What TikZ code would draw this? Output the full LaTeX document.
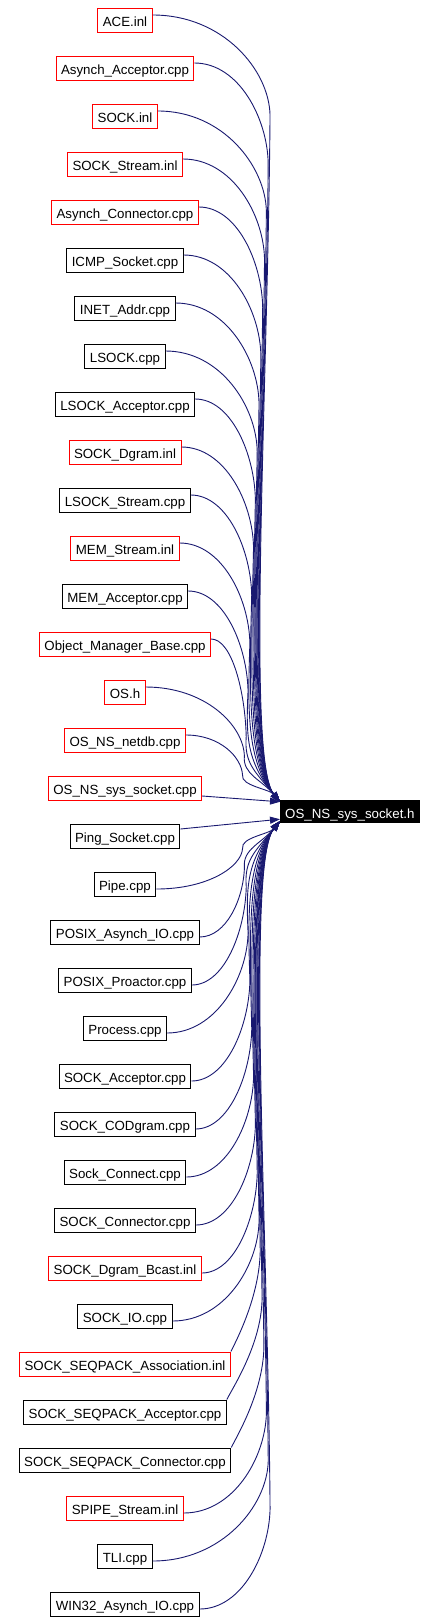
\documentclass[tikz,border=0pt]{standalone}
\usepackage{fontspec}
\setmainfont{Liberation Sans}
\usetikzlibrary{calc,arrows.meta}
\definecolor{edgec}{HTML}{191970}
\definecolor{redc}{HTML}{FF0000}
\begin{document}
\begin{tikzpicture}[x=1pt,y=1pt,
  box/.style={draw=#1, line width=1pt, font=\fontsize{13.3}{15}\selectfont,
    inner xsep=5pt, inner ysep=0pt, minimum height=24pt, text height=13.4pt, text depth=0pt},
  target/.style={fill=black, text=white, font=\fontsize{13.3}{15}\selectfont,
    inner xsep=5pt, inner ysep=0pt, minimum height=23pt, text height=13.4pt, text depth=0pt, anchor=west},
  edge/.style={draw=edgec, line width=0.9pt, -{Triangle[length=10pt,width=7pt]}}]
\useasboundingbox (0,0) rectangle (438,-1622);
\foreach \i/\lab/\col in {0/ACE.inl/redc, 1/Asynch\_Acceptor.cpp/redc, 2/SOCK.inl/redc,
  3/SOCK\_Stream.inl/redc, 4/Asynch\_Connector.cpp/redc, 5/ICMP\_Socket.cpp/black,
  6/INET\_Addr.cpp/black, 7/LSOCK.cpp/black, 8/LSOCK\_Acceptor.cpp/black,
  9/SOCK\_Dgram.inl/redc, 10/LSOCK\_Stream.cpp/black, 11/MEM\_Stream.inl/redc,
  12/MEM\_Acceptor.cpp/black, 13/Object\_Manager\_Base.cpp/redc, 14/OS.h/redc,
  15/OS\_NS\_netdb.cpp/redc, 16/OS\_NS\_sys\_socket.cpp/redc, 17/Ping\_Socket.cpp/black,
  18/Pipe.cpp/black, 19/POSIX\_Asynch\_IO.cpp/black, 20/POSIX\_Proactor.cpp/black,
  21/Process.cpp/black, 22/SOCK\_Acceptor.cpp/black, 23/SOCK\_CODgram.cpp/black,
  24/Sock\_Connect.cpp/black, 25/SOCK\_Connector.cpp/black, 26/SOCK\_Dgram\_Bcast.inl/redc,
  27/SOCK\_IO.cpp/black, 28/SOCK\_SEQPACK\_Association.inl/redc,
  29/SOCK\_SEQPACK\_Acceptor.cpp/black, 30/SOCK\_SEQPACK\_Connector.cpp/black,
  31/SPIPE\_Stream.inl/redc, 32/TLI.cpp/black, 33/WIN32\_Asynch\_IO.cpp/black}
  {\node[box=\col] (n\i) at (125,{-20-48*\i}) {\lab};}
\node[target] (T) at (280,-811.5) {OS\_NS\_sys\_socket.h};
% upper edges
\foreach \i in {0,...,15}{
  \draw[edge] let \p1=($(n\i.east)+(0,5)$), \p2=($(T.north west)+(0,-2)$),
    \n1={\y1-(\y2)}, \n2={\x2-40+(\n1/786)*30}, \n3={min(100,0.6*\n1)},
    \n4={\y1-\n3}, \n5={min(34,0.4*(\n4-(\y2)))} in
    (\p1) .. controls ({\x1+0.6*(\n2-\x1)},\y1) and ({\n2-1},{\n4+0.45*\n3}) .. (\n2,\n4)
    .. controls ({\n2-2},{\n4-0.4*(\n4-(\y2))}) and ({\x2-\n5},{\y2+1.2*\n5}) .. (\p2);
}
\draw[edge] ($(n16.east)+(0,-8)$) -- ($(T.north west)+(0,-2)$);
\draw[edge] ($(n17.east)+(0,7)$) -- ($(T.south west)+(0,4)$);
% lower edges
\foreach \i in {18,...,27,31,32,33}{
  \draw[edge] let \p1=($(n\i.east)+(0,-5)$), \p2=($(T.south west)+(0,2)$),
    \n1={\y2-(\y1)}, \n2={\x2-40+(\n1/786)*30}, \n3={min(100,0.6*\n1)},
    \n4={\y1+\n3}, \n5={min(34,0.4*(\y2-(\n4)))} in
    (\p1) .. controls ({\x1+0.6*(\n2-\x1)},\y1) and ({\n2-1},{\n4-0.45*\n3}) .. (\n2,\n4)
    .. controls ({\n2-2},{\n4+0.4*(\y2-(\n4))}) and ({\x2-\n5},{\y2-1.2*\n5}) .. (\p2);
}
\foreach \i in {28,29,30}{
  \draw[edge] let \p1=(n\i.north east), \p2=($(T.south west)+(0,2)$),
    \n1={\y2-(\y1)}, \n2={\x2-40+(\n1/786)*30}, \n3={min(100,0.6*\n1)},
    \n4={\y1+\n3}, \n5={min(34,0.4*(\y2-(\n4)))} in
    (\p1) .. controls ({\x1+6},{\y1+12}) and ({\n2-1},{\n4-0.45*\n3}) .. (\n2,\n4)
    .. controls ({\n2-2},{\n4+0.4*(\y2-(\n4))}) and ({\x2-\n5},{\y2-1.2*\n5}) .. (\p2);
}
\end{tikzpicture}
\end{document}
